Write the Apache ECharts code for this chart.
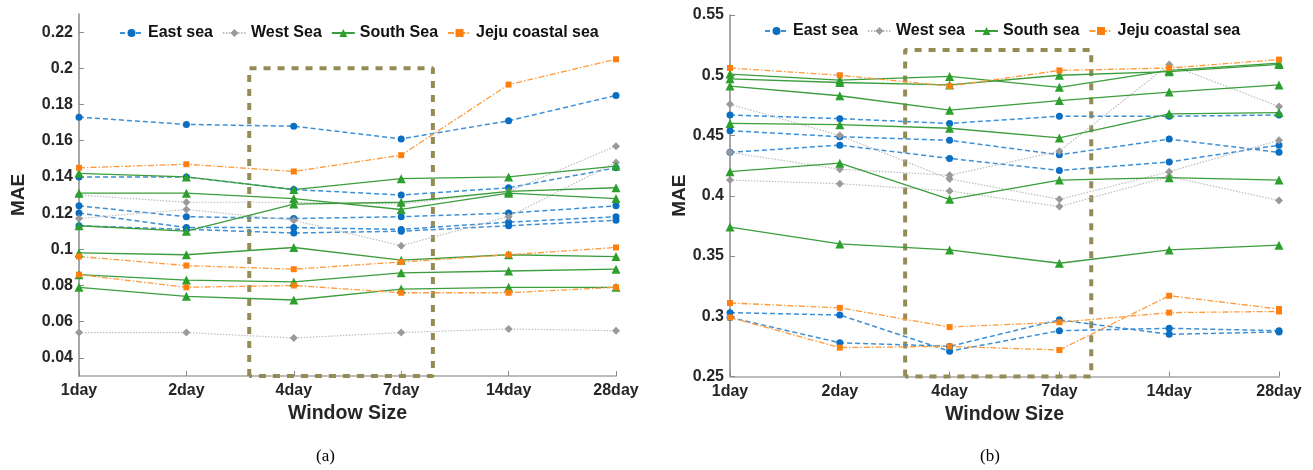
<!DOCTYPE html>
<html>
<head>
<meta charset="utf-8">
<script src="https://cdn.jsdelivr.net/npm/echarts@6/dist/echarts.min.js"></script>
<style>
html,body{margin:0;padding:0;background:#fff;}
#c{width:1313px;height:470px;}
</style>
</head>
<body>
<div id="c"></div>
<script>
// ---- data ----
const categories = ['1day', '2day', '4day', '7day', '14day', '28day'];
const legendA = ['East sea', 'West Sea', 'South Sea', 'Jeju coastal sea'];
const legendB = ['East sea', 'West sea', 'South sea', 'Jeju coastal sea'];

const eastA = [
  [0.173, 0.169, 0.168, 0.161, 0.171, 0.185],
  [0.140, 0.140, 0.133, 0.130, 0.134, 0.145],
  [0.124, 0.118, 0.117, 0.118, 0.120, 0.124],
  [0.120, 0.112, 0.112, 0.111, 0.115, 0.118],
  [0.113, 0.111, 0.109, 0.110, 0.113, 0.116]
];
const westA = [
  [0.130, 0.126, 0.126, 0.125, 0.132, 0.157],
  [0.117, 0.122, 0.116, 0.102, 0.118, 0.148],
  [0.054, 0.054, 0.051, 0.054, 0.056, 0.055]
];
const southA = [
  [0.142, 0.140, 0.133, 0.139, 0.140, 0.146],
  [0.131, 0.131, 0.128, 0.122, 0.131, 0.128],
  [0.113, 0.110, 0.125, 0.126, 0.132, 0.134],
  [0.098, 0.097, 0.101, 0.094, 0.097, 0.096],
  [0.086, 0.083, 0.082, 0.087, 0.088, 0.089],
  [0.079, 0.074, 0.072, 0.078, 0.079, 0.079]
];
const jejuA = [
  [0.145, 0.147, 0.143, 0.152, 0.191, 0.205],
  [0.096, 0.091, 0.089, 0.093, 0.097, 0.101],
  [0.086, 0.079, 0.080, 0.076, 0.076, 0.079]
];

const eastB = [
  [0.467, 0.464, 0.460, 0.466, 0.466, 0.467],
  [0.454, 0.449, 0.446, 0.434, 0.447, 0.436],
  [0.436, 0.442, 0.431, 0.421, 0.428, 0.442],
  [0.303, 0.301, 0.271, 0.288, 0.290, 0.288],
  [0.299, 0.278, 0.275, 0.297, 0.285, 0.287]
];
const westB = [
  [0.476, 0.450, 0.414, 0.397, 0.420, 0.446],
  [0.436, 0.422, 0.417, 0.437, 0.509, 0.474],
  [0.413, 0.410, 0.404, 0.391, 0.416, 0.396]
];
const southB = [
  [0.501, 0.496, 0.499, 0.490, 0.504, 0.510],
  [0.497, 0.494, 0.492, 0.500, 0.503, 0.509],
  [0.491, 0.483, 0.471, 0.479, 0.486, 0.492],
  [0.460, 0.459, 0.456, 0.448, 0.468, 0.469],
  [0.420, 0.427, 0.397, 0.413, 0.415, 0.413],
  [0.374, 0.360, 0.355, 0.344, 0.355, 0.359]
];
const jejuB = [
  [0.506, 0.500, 0.491, 0.504, 0.506, 0.513],
  [0.311, 0.307, 0.291, 0.295, 0.303, 0.304],
  [0.299, 0.274, 0.275, 0.272, 0.317, 0.306]
];

const yTicksA = [0.04, 0.06, 0.08, 0.10, 0.12, 0.14, 0.16, 0.18, 0.20, 0.22];
const yTicksB = [0.25, 0.30, 0.35, 0.40, 0.45, 0.50, 0.55];
const yRangeA = [0.03, 0.23];
const yRangeB = [0.25, 0.55];
// highlight boxes: [left category pos, right category pos, top value]
const boxA = [1.585, 3.295, 0.200];
const boxB = [1.595, 3.29, 0.521];

// ---- styles ----
const FONT = 'Liberation Sans';
const styles = {
  east:  {lineColor: '#3d8fd6', markColor: '#0a6fc2', type: [5, 3], width: 1.5, symbol: 'circle', size: 7},
  west:  {lineColor: '#bdbdbd', markColor: '#9a9a9a', type: [1.5, 1.5], width: 1.2, symbol: 'diamond', size: 8},
  south: {lineColor: '#3b9d3b', markColor: '#2ca02c', type: 'solid', width: 1.3, symbol: 'triangle', size: 9},
  jeju:  {lineColor: '#ff9a3c', markColor: '#ff7f0e', type: [6, 2, 1.5, 2], width: 1.3, symbol: 'rect', size: 6}
};

function build(name, rows, st, gi) {
  return rows.map(row => ({
    type: 'line', name: name, xAxisIndex: gi, yAxisIndex: gi,
    data: row.map((v, i) => [i, v]),
    symbol: st.symbol, symbolSize: st.size,
    lineStyle: {color: st.lineColor, width: st.width, type: st.type},
    itemStyle: {color: st.markColor},
    emphasis: {disabled: true}, animation: false
  }));
}
function boxSeries(box, ymin, gi) {
  return {
    type: 'line', name: 'box' + gi, xAxisIndex: gi, yAxisIndex: gi,
    data: [[box[0], ymin], [box[0], box[2]], [box[1], box[2]], [box[1], ymin], [box[0], ymin]],
    symbol: 'none', clip: false, silent: true, z: 1,
    lineStyle: {color: '#958b55', width: 4, type: [7, 7]},
    animation: false
  };
}

const series = [].concat(
  build(legendA[0], eastA, styles.east, 0),
  build(legendA[1], westA, styles.west, 0),
  build(legendA[2], southA, styles.south, 0),
  build(legendA[3], jejuA, styles.jeju, 0),
  [boxSeries(boxA, yRangeA[0], 0)],
  build('b_' + legendB[0], eastB, styles.east, 1),
  build('b_' + legendB[1], westB, styles.west, 1),
  build('b_' + legendB[2], southB, styles.south, 1),
  build('b_' + legendB[3], jejuB, styles.jeju, 1),
  [boxSeries(boxB, yRangeB[0], 1)]
);

const axisLineStyle = {color: '#8a8a8a', width: 1.5};
function xAxis(gi) {
  return {
    type: 'value', gridIndex: gi, min: 0, max: categories.length - 1, interval: 1,
    axisLine: {show: true, lineStyle: {color: '#a6a6a6', width: 1.5}},
    axisTick: {show: true, inside: true, length: 5, lineStyle: {color: '#8a8a8a'}},
    splitLine: {show: false},
    axisLabel: {formatter: v => categories[v] || '', fontFamily: FONT, fontWeight: 'bold', fontSize: 16, color: '#262626', margin: 7},
    name: 'Window Size', nameLocation: 'middle', nameGap: 25,
    nameTextStyle: {fontFamily: FONT, fontWeight: 'bold', fontSize: 19.5, color: '#262626'}
  };
}
function yAxis(gi, range, ticks, gap) {
  return {
    type: 'value', gridIndex: gi, min: range[0], max: range[1],
    axisLine: {show: true, lineStyle: axisLineStyle},
    axisTick: {show: true, inside: true, length: 5, customValues: ticks, lineStyle: {color: '#8a8a8a'}},
    splitLine: {show: false},
    axisLabel: {customValues: ticks, formatter: v => String(+(+v).toFixed(2)), fontFamily: FONT, fontWeight: 'bold', fontSize: 16, color: '#262626', margin: 6},
    name: 'MAE', nameLocation: 'middle', nameGap: gap, nameRotate: 90,
    nameTextStyle: {fontFamily: FONT, fontWeight: 'bold', fontSize: 19, color: '#262626'}
  };
}
function legend(names, left, top, prefix) {
  return {
    data: names.map(n => prefix + n), left: left, top: top,
    itemWidth: 23, itemHeight: 10, itemGap: 9,
    formatter: n => n.replace(/^b_/, ''),
    textStyle: {fontFamily: FONT, fontWeight: 'bold', fontSize: 16, color: '#111'},
    selectedMode: false
  };
}

const chart = echarts.init(document.getElementById('c'), null, {renderer: 'canvas'});
chart.setOption({
  backgroundColor: '#fff',
  animation: false,
  title: [
    {text: '(a)', left: 311, top: 443, textStyle: {fontFamily: 'Liberation Serif', fontWeight: 'normal', fontSize: 17, color: '#000'}},
    {text: '(b)', left: 975, top: 443, textStyle: {fontFamily: 'Liberation Serif', fontWeight: 'normal', fontSize: 17, color: '#000'}}
  ],
  legend: [legend(legendA, 114, 20, ''), legend(legendB, 759, 18, 'b_')],
  grid: [
    {left: 79, top: 14, width: 537, height: 362},
    {left: 730, top: 15, width: 549, height: 361.5}
  ],
  xAxis: [xAxis(0), xAxis(1)],
  yAxis: [yAxis(0, yRangeA, yTicksA, 51), yAxis(1, yRangeB, yTicksB, 39)],
  series: series
});
</script>
</body>
</html>
